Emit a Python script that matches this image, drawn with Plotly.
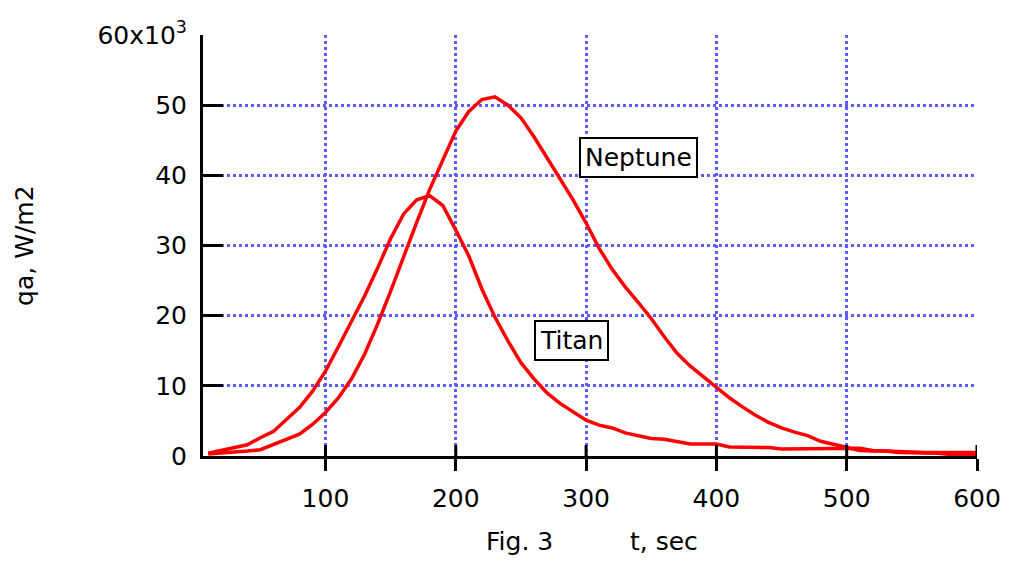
import plotly.graph_objects as go

t = list(range(10, 601, 10))

titan = [0.4, 0.8, 1.2, 1.6, 2.6, 3.5, 5.2, 6.9, 9.2, 12.1,
         15.6, 19.1, 22.8, 26.8, 31.0, 34.5, 36.5, 37.1, 35.7, 32.2,
         28.5, 23.8, 19.8, 16.4, 13.3, 11.0, 9.0, 7.5, 6.3, 5.1,
         4.4, 4.0, 3.3, 2.9, 2.5, 2.4, 2.0, 1.7, 1.7, 1.7,
         1.3, 1.3, 1.3, 1.2, 1.0, 1.0, 1.0, 1.0, 1.0, 1.0,
         1.1, 0.8, 0.7, 0.6, 0.5, 0.5, 0.5, 0.5, 0.5, 0.5]

neptune = [0.3, 0.4, 0.5, 0.7, 0.9, 1.6, 2.3, 3.1, 4.5, 6.2,
           8.3, 11.0, 14.5, 18.8, 23.5, 28.5, 33.3, 38.0, 42.3, 46.3,
           49.1, 50.8, 51.2, 50.0, 48.2, 45.5, 42.5, 39.5, 36.5, 33.2,
           29.6, 26.6, 24.1, 21.9, 19.6, 17.0, 14.6, 12.8, 11.3, 9.9,
           8.3, 7.0, 5.8, 4.8, 4.0, 3.4, 2.9, 2.1, 1.7, 1.3,
           0.8, 0.7, 0.7, 0.5, 0.5, 0.5, 0.4, 0.2, 0.2, 0.2]

y_ticks = [0, 10, 20, 30, 40, 50, 60]
y_ticktext = ["0", "10", "20", "30", "40", "50", "60x10<sup>3</sup>"]
x_ticks = [100, 200, 300, 400, 500, 600]

FONT = "DejaVu Sans"
FS = 25

fig = go.Figure()
fig.add_trace(go.Scatter(x=t, y=titan, mode="lines", name="Titan",
                         line=dict(color="#ff0000", width=3.5)))
fig.add_trace(go.Scatter(x=t, y=neptune, mode="lines", name="Neptune",
                         line=dict(color="#ff0000", width=3.5)))

# inner half of the x tick marks (ticks cross the axis line)
fig.add_trace(go.Scatter(
    x=x_ticks, y=[0] * len(x_ticks), mode="markers",
    marker=dict(size=1, opacity=0), hoverinfo="skip", showlegend=False,
    cliponaxis=False,
    error_y=dict(type="data", symmetric=False, array=[1.55] * len(x_ticks),
                 arrayminus=[0] * len(x_ticks), color="black", thickness=3, width=0)))

grid = dict(showgrid=True, gridcolor="#5c5cff", gridwidth=2.5, griddash="3px,3px")

fig.update_layout(
    width=1013, height=562,
    margin=dict(l=203, r=30, t=35, b=106),
    paper_bgcolor="white", plot_bgcolor="white",
    showlegend=False,
    font=dict(family=FONT, size=FS, color="black"),
    xaxis=dict(range=[6, 600], tickvals=x_ticks, ticks="outside", ticklen=12,
               tickwidth=3, tickcolor="black", showline=True, linewidth=3,
               linecolor="black", zeroline=False, ticklabelstandoff=6,
               tickfont=dict(family=FONT, size=FS), **grid),
    yaxis=dict(range=[0, 60], tickvals=y_ticks, ticktext=y_ticktext,
               ticks="inside", ticklen=20, tickwidth=3, tickcolor="black",
               showline=True, linewidth=3, linecolor="black", zeroline=False,
               ticklabelstandoff=8, tickfont=dict(family=FONT, size=FS), **grid),
)

ann_box = dict(showarrow=False, bgcolor="white", bordercolor="black",
               borderwidth=2, borderpad=4, font=dict(family=FONT, size=FS))
fig.add_annotation(x=340.3, y=42.6, xref="x", yref="y", text="Neptune", **ann_box)
fig.add_annotation(x=288.9, y=16.4, xref="x", yref="y", text="Titan", **ann_box)

fig.add_annotation(x=(23 - 203) / 780, y=0.5, xref="paper", yref="paper",
                   text="qa, W/m2", textangle=-90, showarrow=False,
                   xanchor="center", yanchor="middle", font=dict(family=FONT, size=FS))
fig.add_annotation(x=(522 - 203) / 780, y=(456 - 541) / 421, xref="paper", yref="paper",
                   text="Fig. 3", showarrow=False, xanchor="center", yanchor="middle",
                   font=dict(family=FONT, size=FS))
fig.add_annotation(x=(668 - 203) / 780, y=(456 - 541) / 421, xref="paper", yref="paper",
                   text="t, sec", showarrow=False, xanchor="center", yanchor="middle",
                   font=dict(family=FONT, size=FS))

fig.write_html("out.html")
